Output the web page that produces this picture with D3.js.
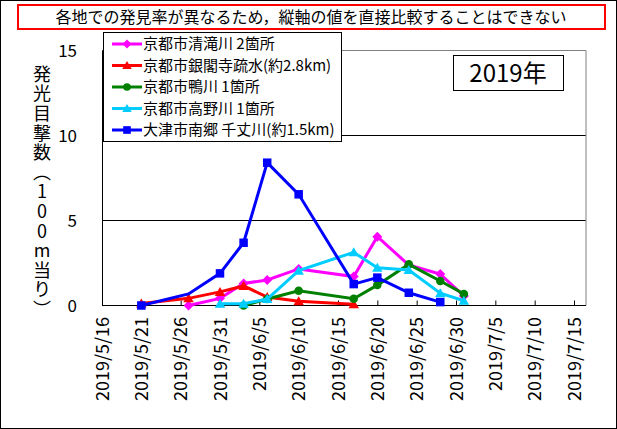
<!DOCTYPE html>
<html><head><meta charset="utf-8">
<script src="https://cdn.jsdelivr.net/npm/d3@7"></script>
<style>
body{margin:0;background:#fff}
svg{display:block}
text{font-family:"Noto Sans CJK JP","Noto Sans CJK SC",sans-serif;fill:#000}
</style>
</head><body>
<svg id="c" width="617" height="429"></svg>
<script>
// ---------- data ----------
const seriesNames = ["京都市清滝川 2箇所","京都市銀閣寺疏水(約2.8km)","京都市鴨川 1箇所","京都市高野川 1箇所","大津市南郷 千丈川(約1.5km)"];
const seriesColors = ["#FF00FF","#FF0000","#008000","#00CCFF","#0000FF"];
const seriesMarkers = ["diamond","triangle","circle","triangle","square"];

const kiyotakiDates = ["2019-05-27","2019-05-31","2019-06-03","2019-06-06","2019-06-10","2019-06-17","2019-06-20","2019-06-24","2019-06-28","2019-07-01"];
const kiyotakiValues = [0.0,0.42,1.3,1.5,2.15,1.7,4.05,2.38,1.85,0.56];

const ginkakujiDates = ["2019-05-21","2019-05-27","2019-05-31","2019-06-03","2019-06-06","2019-06-10","2019-06-17"];
const ginkakujiValues = [0.12,0.42,0.8,1.15,0.5,0.25,0.08];

const kamogawaDates = ["2019-06-03","2019-06-06","2019-06-10","2019-06-17","2019-06-20","2019-06-24","2019-06-28","2019-07-01"];
const kamogawaValues = [0.0,0.38,0.87,0.4,1.2,2.42,1.44,0.68];

const takanoDates = ["2019-05-31","2019-06-03","2019-06-06","2019-06-10","2019-06-17","2019-06-20","2019-06-24","2019-06-28","2019-07-01"];
const takanoValues = [0.1,0.1,0.38,2.05,3.13,2.22,2.09,0.72,0.28];

const senjoDates = ["2019-05-21","2019-05-27","2019-05-31","2019-06-03","2019-06-06","2019-06-10","2019-06-17","2019-06-20","2019-06-24","2019-06-28"];
const senjoValues = [0.0,0.68,1.89,3.69,8.4,6.54,1.26,1.64,0.75,0.2];
const senjoNoMarker = ["2019-05-27"];

const xTickLabels = ["2019/5/16","2019/5/21","2019/5/26","2019/5/31","2019/6/5","2019/6/10","2019/6/15","2019/6/20","2019/6/25","2019/6/30","2019/7/5","2019/7/10","2019/7/15"];
const yTickValues = [0,5,10,15];
const titleText = "各地での発見率が異なるため，縦軸の値を直接比較することはできない";
const yearText = "2019年";
const yLabelText = "発光目撃数（100m当り）";

// ---------- helpers ----------
const parseISO = d3.timeParse("%Y-%m-%d");
const parseLbl = d3.timeParse("%Y/%m/%d");
function build(dates, values, skip){
  return dates.map((d,i)=>({date:parseISO(d), v:values[i], marker: !(skip||[]).includes(d)}));
}
const seriesData = [
  build(kiyotakiDates,kiyotakiValues),
  build(ginkakujiDates,ginkakujiValues),
  build(kamogawaDates,kamogawaValues),
  build(takanoDates,takanoValues),
  build(senjoDates,senjoValues,senjoNoMarker)
];

const svg = d3.select("#c");
const L = 102, R = 586, T = 50.5, B = 305.5;
const tickDates = xTickLabels.map(parseLbl);
const x = d3.scaleTime().domain([tickDates[0], tickDates[tickDates.length-1]]).range([L, 574]);
const y = d3.scaleLinear().domain([0,15]).range([B, T]);

function markerPath(type, s){
  if(type==="diamond") return `M0,${-s}L${s},0L0,${s}L${-s},0Z`;
  if(type==="triangle") return `M0,${-s*1.0}L${s*1.05},${s*0.8}L${-s*1.05},${s*0.8}Z`;
  if(type==="square") return `M${-s*0.85},${-s*0.85}H${s*0.85}V${s*0.85}H${-s*0.85}Z`;
  return d3.arc()({innerRadius:0,outerRadius:s*0.85,startAngle:0,endAngle:2*Math.PI});
}

// outer border
svg.append("rect").attr("x",0.5).attr("y",0.5).attr("width",616).attr("height",428)
  .attr("fill","#fff").attr("stroke","#000");

// title
svg.append("rect").attr("x",18).attr("y",5).attr("width",587).attr("height",24)
  .attr("fill","#fff").attr("stroke","#FF0000").attr("stroke-width",2);
svg.append("text").attr("x",311).attr("y",17).attr("dy","0.35em").attr("text-anchor","middle")
  .style("font-size","16px").text(titleText);

// gridlines
svg.append("g").selectAll("line").data([5,10]).join("line")
  .attr("x1",L).attr("x2",R).attr("y1",d=>y(d)).attr("y2",d=>y(d))
  .attr("stroke","#000");

// plot frame (top/right grey)
svg.append("path").attr("d",`M${L},${T}H${R}V${B}`).attr("fill","none").attr("stroke","#808080");

// y axis
const yAxis = svg.append("g").attr("transform",`translate(${L},0)`)
  .call(d3.axisLeft(y).tickValues(yTickValues).tickSize(0).tickPadding(25).tickFormat(d3.format("d")));
yAxis.select(".domain").remove();
yAxis.selectAll("text").style("font-size","17px").style("font-family","'Noto Sans CJK JP'").attr("dy","0.35em");
svg.append("line").attr("x1",L+0.5).attr("x2",L+0.5).attr("y1",T).attr("y2",B).attr("stroke","#000");

// x axis
const xAxis = svg.append("g").attr("transform",`translate(0,${B})`)
  .call(d3.axisBottom(x).tickValues(tickDates).tickSizeInner(-5).tickSizeOuter(0)
    .tickFormat((d,i)=>xTickLabels[i]));
xAxis.select(".domain").remove();
xAxis.selectAll(".tick line").attr("stroke","#000");
xAxis.selectAll("text")
  .attr("transform","rotate(-90)").attr("x",-11.5).attr("y",0).attr("dy","0.35em")
  .style("text-anchor","end").style("font-size","18px").style("font-family","'Noto Sans CJK JP'");
svg.append("line").attr("x1",L).attr("x2",R).attr("y1",B).attr("y2",B).attr("stroke","#000");

// y axis label (vertical writing)
svg.append("text").attr("x",42).attr("y",65)
  .style("writing-mode","vertical-rl").style("text-orientation","upright")
  .style("font-size","18px").style("letter-spacing","1.6px")
  .text(yLabelText);

// series
const line = d3.line().x(d=>x(d.date)).y(d=>y(d.v));
const gS = svg.append("g");
seriesData.forEach((data,si)=>{
  gS.append("path").datum(data).attr("d",line).attr("fill","none")
    .attr("stroke",seriesColors[si]).attr("stroke-width",3).attr("stroke-linejoin","miter");
  gS.append("g").selectAll("path").data(data.filter(d=>d.marker)).join("path")
    .attr("transform",d=>`translate(${x(d.date)},${y(d.v)})`)
    .attr("d",markerPath(seriesMarkers[si],5)).attr("fill",seriesColors[si]);
});

// legend
const lg = svg.append("g");
lg.append("rect").attr("x",103.5).attr("y",32.5).attr("width",238).attr("height",109)
  .attr("fill","#fff").attr("stroke","#000");
seriesNames.forEach((name,i)=>{
  const cy = 44 + i*21.5;
  lg.append("line").attr("x1",112).attr("x2",142).attr("y1",cy).attr("y2",cy)
    .attr("stroke",seriesColors[i]).attr("stroke-width",3);
  lg.append("path").attr("transform",`translate(127,${cy})`).attr("d",markerPath(seriesMarkers[i],4.5))
    .attr("fill",seriesColors[i]);
  lg.append("text").attr("x",143).attr("y",cy).attr("dy","0.36em").style("font-size","15px").text(name);
});

// year box
svg.append("rect").attr("x",453.5).attr("y",55.5).attr("width",110).attr("height",35)
  .attr("fill","#fff").attr("stroke","#000");
svg.append("text").attr("x",508).attr("y",73).attr("dy","0.36em").attr("text-anchor","middle")
  .style("font-size","24px").text(yearText);
</script>
</body></html>
